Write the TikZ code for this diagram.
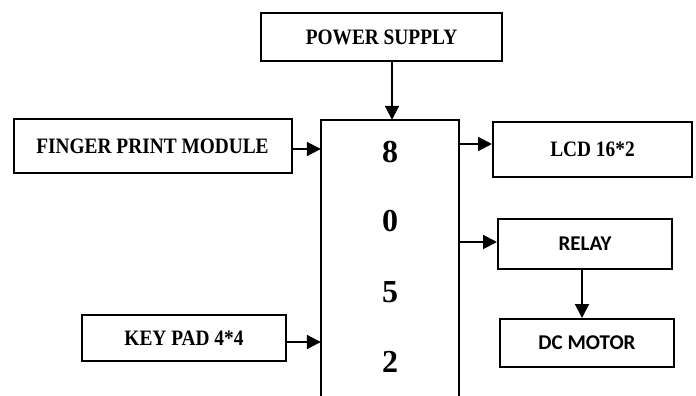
\documentclass[tikz,border=0pt]{standalone}
\usepackage{fontspec}
\setmainfont{Liberation Serif}
\newfontfamily\serifx[FakeStretch=0.88]{Liberation Serif}
\newfontfamily\calfont{Carlito}
\usetikzlibrary{arrows.meta}
\begin{document}
\begin{tikzpicture}[x=1pt,y=-1pt,
  box/.style={draw,line width=2pt,inner sep=0pt,align=center},
  lab/.style={font=\serifx\fontsize{22}{24}\selectfont\bfseries},
  slab/.style={font=\calfont\fontsize{21}{24}\selectfont\bfseries},
  digit/.style={font=\fontsize{32}{36}\selectfont\bfseries,inner sep=0pt},
  arr/.style={line width=2pt,-{Triangle[length=14pt,width=14pt]}}]
\useasboundingbox (0,0) rectangle (696,396);
\node[box,lab,minimum width=241,minimum height=48] (ps) at (381.5,37) {POWER SUPPLY};
\node[box,lab,minimum width=278,minimum height=54] (fp) at (152.5,146) {FINGER PRINT MODULE};
\node[box,lab,minimum width=204,minimum height=46] (kp) at (184,338) {KEY PAD 4*4};
\node[box,lab,minimum width=199,minimum height=55] (lcd) at (592.5,149.5) {LCD 16*2};
\node[box,slab,minimum width=174,minimum height=50] (relay) at (585,244) {RELAY};
\node[box,slab,minimum width=174,minimum height=48] (dc) at (587,343) {DC MOTOR};
\node[inner sep=0pt,minimum width=138,minimum height=276] (mcu) at (390,258) {};
\draw[line width=2pt] (mcu.south west) -- (mcu.north west) -- (mcu.north east) -- (mcu.south east);
\node[digit] (d8) at (390,152) {8};
\node[digit] (d0) at (390,221) {0};
\node[digit] (d5) at (390,292) {5};
\node[digit] (d2) at (390,362) {2};
\draw[arr] ([xshift=10.5]ps.south) -- ([xshift=10.5]ps.south |- mcu.north);
\draw[arr] ([yshift=-3]fp.east) -- ([yshift=-3]fp.east -| mcu.west);
\draw[arr] ([yshift=-4]kp.east) -- ([yshift=-4]kp.east -| mcu.west);
\draw[arr] (mcu.east |- lcd.west) ++(0,-5.5) coordinate (l1) -- (l1 -| lcd.west);
\draw[arr] (mcu.east |- relay.west) ++(0,-2) coordinate (r1) -- (r1 -| relay.west);
\draw[arr] ([xshift=-3]relay.south) -- ([xshift=-3]relay.south |- dc.north);
\end{tikzpicture}
\end{document}
